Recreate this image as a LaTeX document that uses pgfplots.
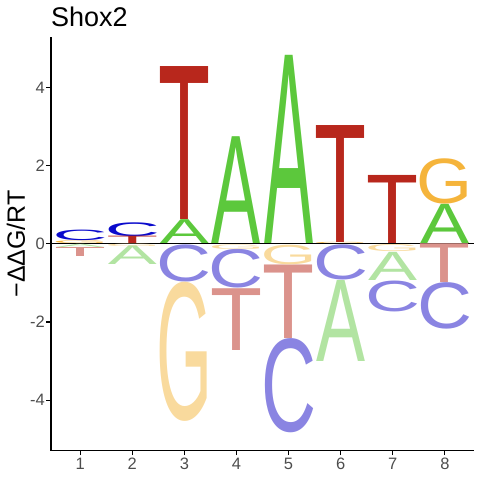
\documentclass[border=0pt]{standalone}
\usepackage{pgfplots}
\pgfplotsset{compat=1.18}
\usepackage{fontspec}
\setmainfont{Liberation Sans}
\usepackage{graphicx}
\definecolor{Atop}{HTML}{5CC83C}
\definecolor{Ctop}{HTML}{0A0ACC}
\definecolor{Gtop}{HTML}{F5B43B}
\definecolor{Ttop}{HTML}{B8271C}
\definecolor{Abot}{HTML}{B2E4A2}
\definecolor{Cbot}{HTML}{8A84E2}
\definecolor{Gbot}{HTML}{F9DA9D}
\definecolor{Tbot}{HTML}{DB938C}
\definecolor{labgray}{HTML}{4D4D4D}
\pgfplotsset{
  logo/.style n args={3}{draw=none, mark=none,
    visualization depends on={39.1*\thisrow{h}\as\hh},
    nodes near coords={\resizebox*{#2pt}{\hh pt}{#3}},
    every node near coord/.style={anchor=south, inner sep=0pt, outer sep=0pt, text=#1}},
}
\begin{document}
\begin{tikzpicture}
\begin{axis}[
  scale only axis, width=422.5pt, height=413.7pt,
  at={(0,0)}, anchor=south west,
  xmin=0.44, xmax=8.55, ymin=-5.29, ymax=5.29,
  axis x line*=bottom, axis y line*=left,
  axis line style={line width=1.5pt, black, -},
  xtick={1,2,3,4,5,6,7,8}, xticklabels={1,2,3,4,5,6,7,8},
  ytick={-4,-2,0,2,4}, yticklabels={-4,-2,0,2,4},
  tick align=outside, major tick length=4.5pt,
  tick style={black, line width=1.2pt},
  ticklabel style={font=\fontsize{16.5}{19}\selectfont, text=labgray},
  xticklabel style={inner sep=0pt, yshift=-2.5pt},
  yticklabel style={inner sep=0pt, xshift=-1.5pt},
  title={Shox2},
  every axis title/.style={at={(0,1)}, anchor=base west, yshift=10.3pt, inner sep=0pt, font=\fontsize{27}{30}\selectfont},
  ylabel={−ΔΔG/RT},
  every axis y label/.style={at={(rel axis cs:0,0.5)}, xshift=-26pt, rotate=90, anchor=base, inner sep=0pt, font=\fontsize{25}{28}\selectfont},
  clip=false,
]
% saturated letters (above zero)
\addplot[logo={Ctop}{55}{C}] table[x=x, y=y0, row sep=\\] {
x y0 h \\
1 0.07 0.27 \\
2 0.19 0.355 \\
};
\addplot[logo={Gtop}{56}{G}] table[x=x, y=y0, row sep=\\] {
x y0 h \\
1 0 0.07 \\
6 0 0.03 \\
8 1.01 1.16 \\
};
\addplot[logo={Ttop}{52}{T}] table[x=x, y=y0, row sep=\\] {
x y0 h \\
2 0 0.187 \\
3 0.62 3.91 \\
6 0.03 2.99 \\
7 0 1.74 \\
};
\addplot[logo={Atop}{49}{A}] table[x=x, y=y0, row sep=\\] {
x y0 h \\
3 0 0.61 \\
4 0 2.73 \\
5 0 4.81 \\
8 0 1.0 \\
};
% light letters (below zero)
\addplot[logo={Abot}{49}{A}] table[x=x, y=y0, row sep=\\] {
x y0 h \\
1 -0.09 0.08 \\
2 -0.54 0.48 \\
6 -3.01 2.07 \\
7 -0.94 0.72 \\
};
\addplot[logo={Tbot}{52}{T}] table[x=x, y=y0, row sep=\\] {
x y0 h \\
1 -0.325 0.23 \\
4 -2.73 1.58 \\
5 -2.42 1.88 \\
8 -0.99 0.99 \\
};
\addplot[logo={Cbot}{55}{C}] table[x=x, y=y0, row sep=\\] {
x y0 h \\
3 -0.98 0.95 \\
4 -1.14 0.99 \\
5 -4.83 2.41 \\
6 -0.93 0.90 \\
7 -1.74 0.79 \\
8 -2.18 1.19 \\
};
\addplot[logo={Gbot}{56}{G}] table[x=x, y=y0, row sep=\\] {
x y0 h \\
2 -0.06 0.06 \\
3 -4.54 3.56 \\
4 -0.14 0.12 \\
5 -0.53 0.50 \\
7 -0.21 0.18 \\
};
\addplot[black, line width=0.9pt] coordinates {(0.44,0) (8.55,0)};
\end{axis}
\path[use as bounding box] (-51pt,-29.3pt) rectangle (429pt,450.7pt);
\end{tikzpicture}
\end{document}
